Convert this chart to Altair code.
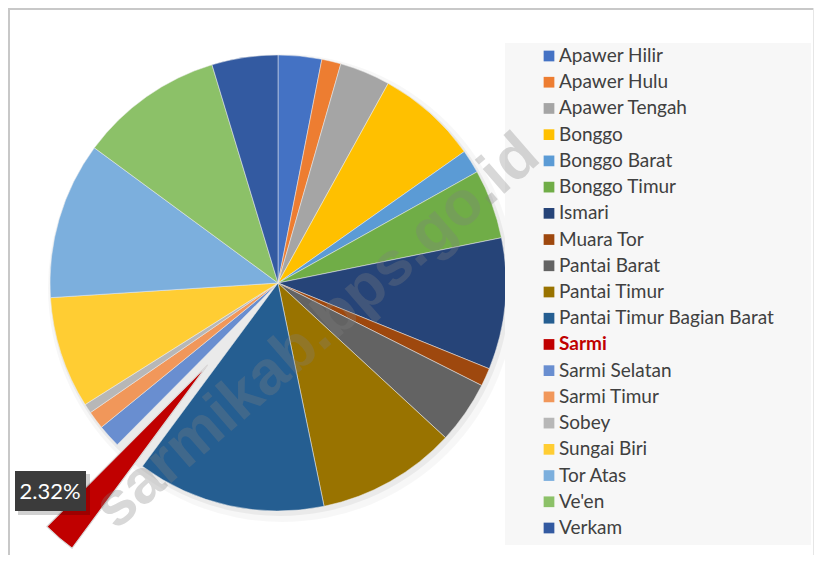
import math
import altair as alt
import pandas as pd

names = ["Apawer Hilir", "Apawer Hulu", "Apawer Tengah", "Bonggo", "Bonggo   Barat",
         "Bonggo  Timur", "Ismari", "Muara Tor", "Pantai Barat", "Pantai Timur",
         "Pantai Timur Bagian Barat", "Sarmi", "Sarmi Selatan", "Sarmi Timur", "Sobey",
         "Sungai Biri", "Tor Atas", "Ve'en", "Verkam"]
values = [3.08, 1.36, 3.58, 7.19, 1.67, 4.92, 9.31, 1.28, 4.44, 9.89,
          13.36, 2.32, 1.64, 1.28, 0.67, 7.92, 11.11, 10.22, 4.67]
colors = ["#4472C4", "#ED7D31", "#A5A5A5", "#FFC000", "#5B9BD5", "#70AD47", "#264478",
          "#9E480E", "#636363", "#997300", "#255E91", "#C00000", "#698ED0", "#F1975A",
          "#B7B7B7", "#FFCD33", "#7CAFDD", "#8CC168", "#335AA1"]
highlight = "Sarmi"
watermark = "sarmikab.bps.go.id"

df = pd.DataFrame({"name": names, "value": values, "idx": list(range(len(names)))})

W, H = 806, 547
CX, CY, R = 270, 275, 228
EXPLODE = 108
FONT = "Lato, sans-serif"

# direction of the exploded slice, from the data
i_h = names.index(highlight)
total = sum(values)
mid = (sum(values[:i_h]) + values[i_h] / 2) / total * 2 * math.pi
ex_x = CX + EXPLODE * math.sin(mid)
ex_y = CY - EXPLODE * math.cos(mid)

base = alt.Chart(df)
color_enc = alt.Color("name:N", scale=alt.Scale(domain=names, range=colors), legend=None)
theta_enc = alt.Theta("value:Q", stack=True)
order_enc = alt.Order("idx:Q")

one = alt.Chart(pd.DataFrame({"k": [0]}))

shadow1 = one.mark_arc(radius=R + 6, theta=0, theta2=2 * math.pi, color="#000000",
                       opacity=0.03).encode(x=alt.value(CX + 4), y=alt.value(CY + 5))
shadow2 = one.mark_arc(radius=R + 2, theta=0, theta2=2 * math.pi, color="#000000",
                       opacity=0.05).encode(x=alt.value(CX + 2), y=alt.value(CY + 3))

pie = base.mark_arc(radius=R, stroke="#eeeeee", strokeWidth=0.5).encode(
    theta=theta_enc, order=order_enc, color=color_enc,
    opacity=alt.condition(alt.datum.name == highlight, alt.value(0), alt.value(1)),
    x=alt.value(CX), y=alt.value(CY))

exploded = base.mark_arc(radius=R, stroke="#d9d9d9", strokeWidth=1.2).encode(
    theta=theta_enc, order=order_enc, color=color_enc,
    opacity=alt.condition(alt.datum.name == highlight, alt.value(1), alt.value(0)),
    strokeOpacity=alt.condition(alt.datum.name == highlight, alt.value(1), alt.value(0)),
    x=alt.value(ex_x), y=alt.value(ex_y))

# data label box
lab_shadow = one.mark_rect(color="#000000", opacity=0.18).encode(
    x=alt.value(10), x2=alt.value(82), y=alt.value(466), y2=alt.value(507))
lab_box = one.mark_rect(color="#3b3b3b").encode(
    x=alt.value(7), x2=alt.value(78), y=alt.value(463), y2=alt.value(503))
lab_text = base.transform_filter(alt.datum.name == highlight).transform_calculate(
    label="format(datum.value, '.2f') + '%'"
).mark_text(font=FONT, fontSize=22, color="#ffffff", align="center", baseline="middle").encode(
    text="label:N", x=alt.value(42), y=alt.value(484))

# legend
leg_box = one.mark_rect(color="#f7f7f7").encode(
    x=alt.value(497), x2=alt.value(803), y=alt.value(35), y2=alt.value(537))
y_enc = alt.Y("name:N", scale=alt.Scale(type="point", domain=names, range=[48, 520], padding=0),
              axis=None)
leg_sym = base.mark_square(size=115, opacity=1).encode(
    x=alt.value(541), y=y_enc, color=color_enc)
leg_txt = base.transform_filter(alt.datum.name != highlight).mark_text(
    font=FONT, fontSize=19, color="#404040", align="left", baseline="middle").encode(
    x=alt.value(551), y=y_enc, text="name:N")
leg_txt_h = base.transform_filter(alt.datum.name == highlight).mark_text(
    font=FONT, fontSize=19, color="#C00000", fontWeight="bold", align="left",
    baseline="middle").encode(x=alt.value(551), y=y_enc, text="name:N")

wm = one.transform_calculate(t=f"'{watermark}'").mark_text(
    font="Liberation Sans", fontSize=62, fontWeight="bold", color="#808080", opacity=0.3,
    angle=319, align="right", baseline="middle").encode(
    text="t:N", x=alt.value(522), y=alt.value(138))

frame_top = one.mark_rule(color="#c8c8c8", strokeWidth=2).encode(
    x=alt.value(0), x2=alt.value(W), y=alt.value(1))
frame_left = one.mark_rule(color="#c8c8c8", strokeWidth=2).encode(
    x=alt.value(1), y=alt.value(0), y2=alt.value(H))
frame_right = one.mark_rule(color="#e6e6e6", strokeWidth=1).encode(
    x=alt.value(W - 0.5), y=alt.value(0), y2=alt.value(H))

chart = alt.layer(
    frame_top, frame_left, frame_right, shadow1, shadow2, pie, exploded, leg_box, leg_sym,
    leg_txt, leg_txt_h, lab_shadow, lab_box, lab_text, wm
).properties(
    width=W, height=H, padding=0, autosize=alt.AutoSizeParams(type="none")
).configure_view(stroke=None)

chart.save("out.html", embed_options={"renderer": "svg", "actions": False})
